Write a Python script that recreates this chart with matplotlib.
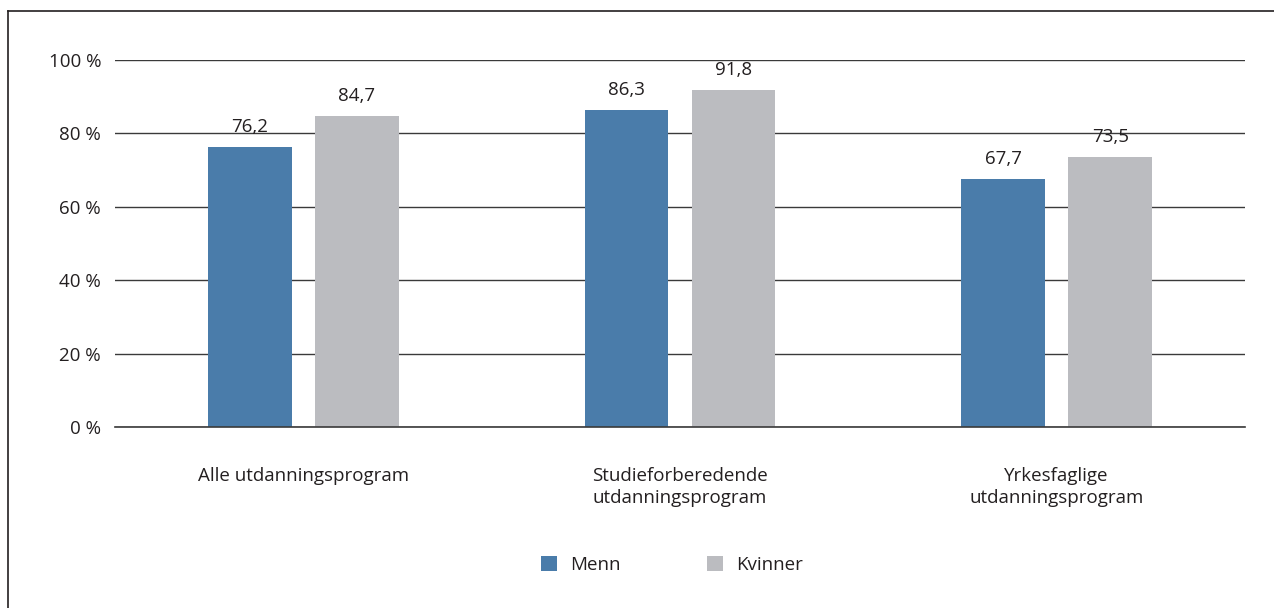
import matplotlib.pyplot as plt
import numpy as np
from matplotlib.lines import Line2D

categories = ["Alle utdanningsprogram",
              "Studieforberedende\nutdanningsprogram",
              "Yrkesfaglige\nutdanningsprogram"]
menn = [76.2, 86.3, 67.7]
kvinner = [84.7, 91.8, 73.5]
series_names = ["Menn", "Kvinner"]
yticks = [0, 20, 40, 60, 80, 100]

plt.rcParams['font.family'] = ['Open Sans', 'DejaVu Sans']
blue = '#4a7caa'
grey = '#bbbcc0'
text_col = '#231f20'
fs = 13.5

fig = plt.figure(figsize=(12.74, 6.08), dpi=100)
W, H = 1274, 608
ax = fig.add_axes([115 / W, 1 - 427 / H, 1130 / W, 367 / H])

x = np.arange(len(categories))
w = 0.222
off = 0.142
b1 = ax.bar(x - off, menn, w, color=blue, zorder=3, label=series_names[0])
b2 = ax.bar(x + off, kvinner, w, color=grey, zorder=3, label=series_names[1])

for bars, vals in ((b1, menn), (b2, kvinner)):
    for bar, v in zip(bars, vals):
        ax.text(bar.get_x() + bar.get_width() / 2, v + 3.0,
                f"{v:.1f}".replace('.', ','), ha='center', va='bottom',
                fontsize=fs, color=text_col)

ax.set_xlim(-0.5, 2.5)
ax.set_ylim(0, 100)
ax.set_yticks(yticks)
ax.set_yticklabels([f"{t} %" for t in yticks], fontsize=fs, color=text_col)
ax.yaxis.grid(True, color='#3a3a3a', linewidth=1.0, zorder=0)
ax.axhline(0, color='#3a3a3a', linewidth=1.2, zorder=4, clip_on=False)
ax.set_xticks(x)
ax.set_xticklabels(categories, fontsize=fs, color=text_col, linespacing=1.3)
ax.tick_params(axis='x', length=0, pad=29)
ax.tick_params(axis='y', length=0, pad=10)
for s in ax.spines.values():
    s.set_visible(False)

leg = fig.legend(handles=[b1, b2], loc='center', bbox_to_anchor=(672 / W, 1 - 565 / H),
                 ncol=2, frameon=False, fontsize=fs, handlelength=0.85,
                 handleheight=0.85, columnspacing=4.6, handletextpad=0.7)
for t in leg.get_texts():
    t.set_color(text_col)

# outer frame (left and top only)
fig.add_artist(Line2D([8 / W, 8 / W], [0, 1 - 11 / H], transform=fig.transFigure,
                      color='#231f20', linewidth=1.2))
fig.add_artist(Line2D([8 / W, 1], [1 - 11 / H, 1 - 11 / H], transform=fig.transFigure,
                      color='#231f20', linewidth=1.2))

fig.savefig("out.png", dpi=100)
